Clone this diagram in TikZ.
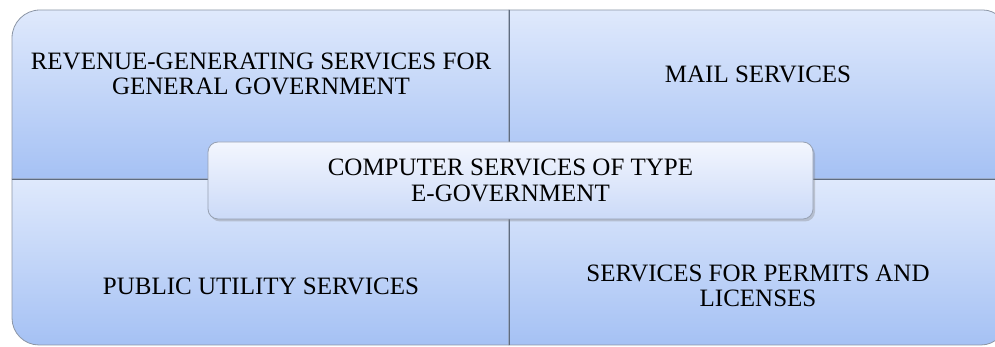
\documentclass[tikz,border=0pt]{standalone}
\usepackage{fontspec}
\setmainfont{Liberation Serif}
\usetikzlibrary{shadows}
\definecolor{qtop}{RGB}{223,233,252}
\definecolor{qbot}{RGB}{165,193,244}
\definecolor{ctop}{RGB}{243,246,254}
\definecolor{cbot}{RGB}{203,218,248}
\definecolor{edgec}{RGB}{140,150,166}
\definecolor{divc}{RGB}{95,108,128}
\definecolor{cedge}{RGB}{150,160,178}
\begin{document}
\begin{tikzpicture}[x=1pt,y=1pt,
  quad/.style={draw=edgec, line width=0.8pt, top color=qtop, bottom color=qbot},
  divider/.style={draw=divc, line width=0.9pt},
  lbl/.style={font=\fontsize{25}{25.5}\selectfont, align=center, text=black, inner sep=0pt},
  centerbox/.style={draw=cedge, line width=0.8pt, rounded corners=10pt, top color=ctop, bottom color=cbot,
    minimum width=605pt, minimum height=77pt, inner sep=0pt, align=center,
    font=\fontsize{25}{25.5}\selectfont,
    drop shadow={shadow xshift=2pt, shadow yshift=-2.5pt, opacity=0.35}}]
\useasboundingbox (0,0) rectangle (995,347);
\fill[white] (0,0) rectangle (995,347);
\begin{scope}
\clip (0,0) rectangle (995,347);
% top-left quadrant
\path[quad] (12,168) -- (12,309) arc[start angle=180,end angle=90,radius=28] -- (509,337) -- (509,168) -- cycle;
% top-right quadrant
\path[quad] (509,168) -- (509,337) -- (983,337) arc[start angle=90,end angle=0,radius=23] -- (1006,168) -- cycle;
% bottom-left quadrant
\path[quad] (12,168) -- (509,168) -- (509,2) -- (39,2) arc[start angle=270,end angle=180,radius=27] -- cycle;
% bottom-right quadrant
\path[quad] (509,168) -- (1006,168) -- (1006,27) arc[start angle=0,end angle=-90,radius=25] -- (509,2) -- cycle;
% dividers
\coordinate (vt) at (509,337);
\coordinate (vb) at (509,2);
\coordinate (hl) at (12,168);
\coordinate (hr) at (1006,168);
\path[divider] (vt) -- (vb);
\path[divider] (hl) -- (hr);
\end{scope}
\node[lbl] (tl) at (261,273) {REVENUE-GENERATING SERVICES FOR\\GENERAL GOVERNMENT};
\node[lbl] (tr) at (758,273) {MAIL SERVICES};
\node[lbl] (bl) at (261,61) {PUBLIC UTILITY SERVICES};
\node[lbl] (br) at (758,61) {SERVICES FOR PERMITS AND\\LICENSES};
\node[centerbox] (c) at (510.5,166.5) {COMPUTER SERVICES OF TYPE\\E-GOVERNMENT};
\end{tikzpicture}
\end{document}
